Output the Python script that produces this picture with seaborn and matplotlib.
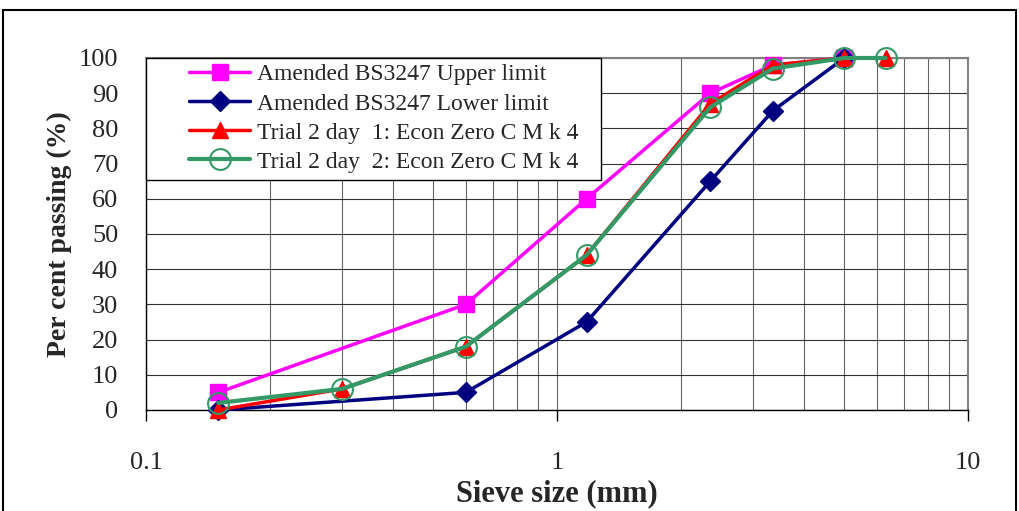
import matplotlib
matplotlib.use("Agg")
import matplotlib.pyplot as plt
import matplotlib.patches as mpatches
import seaborn as sns
import pandas as pd
import numpy as np
from matplotlib.ticker import FixedLocator, LogLocator, NullFormatter

sieve_limits = [0.15, 0.6, 1.18, 2.36, 3.35, 5.0]
upper_limit = [5, 30, 60, 90, 98, 100]
lower_limit = [0, 5, 25, 65, 85, 100]
sieve_trial = [0.15, 0.3, 0.6, 1.18, 2.36, 3.35, 5.0, 6.3]
trial_day1 = [0, 6, 18, 44, 87, 98, 100, 100]
trial_day2 = [2, 6, 18, 44, 86, 97, 100, 100]

names = ["Amended BS3247 Upper limit", "Amended BS3247 Lower limit",
         "Trial 2 day  1: Econ Zero C M k 4", "Trial 2 day  2: Econ Zero C M k 4"]

sns.set_theme(style="white")
plt.rcParams['font.family'] = ['Liberation Serif', 'DejaVu Serif']

fig = plt.figure(figsize=(10.19, 5.11), dpi=100)
ax = fig.add_axes([0.1433, 0.1977, 0.95 - 0.1433, 0.8865 - 0.1977])

frames = [
    (sieve_limits, upper_limit, names[0]),
    (sieve_limits, lower_limit, names[1]),
    (sieve_trial, trial_day1, names[2]),
    (sieve_trial, trial_day2, names[3]),
]
styles = [
    dict(color="#FF00FF", marker="s", markersize=11, lw=2.5, mfc="#FF00FF", mec="#FF00FF", zorder=3),
    dict(color="#000080", marker="D", markersize=10, lw=2.5, mfc="#000080", mec="#000080", zorder=4),
    dict(color="#FF0000", marker="^", markersize=11, lw=2.5, mfc="#FF0000", mec="#FF0000", zorder=5),
    dict(color="#339966", marker="o", markersize=15, lw=3, mfc="none", mec="#339966", mew=1.5, zorder=6),
]
for (xs, ys, nm), st in zip(frames, styles):
    df = pd.DataFrame({"x": xs, "y": ys})
    sns.lineplot(data=df, x="x", y="y", ax=ax, label=nm, color=st["color"],
                 marker=st["marker"], markersize=st["markersize"], linewidth=st["lw"],
                 markerfacecolor=st["mfc"], markeredgecolor=st["mec"],
                 markeredgewidth=st.get("mew", 1), zorder=st["zorder"], clip_on=False)

ax.set_xscale("log")
ax.set_xlim(0.1, 10)
ax.set_ylim(0, 100)
ax.set_yticks(np.arange(0, 101, 10))
ax.xaxis.set_major_locator(FixedLocator([0.1, 1, 10]))
ax.xaxis.set_minor_locator(LogLocator(base=10, subs=np.arange(2, 10)))
ax.xaxis.set_minor_formatter(NullFormatter())
ax.set_xticklabels(["0.1", "1", "10"])
ax.grid(True, which="both", axis="x", color="#000000", lw=0.8, alpha=0.6)
ax.grid(True, which="major", axis="y", color="#000000", lw=0.8, alpha=0.8)
ax.set_axisbelow(True)

for s in ["top", "right"]:
    ax.spines[s].set_color("#808080")
    ax.spines[s].set_linewidth(1.5)
for s in ["left", "bottom"]:
    ax.spines[s].set_color("#000000")
    ax.spines[s].set_linewidth(1.0)

ax.tick_params(axis="x", which="major", direction="out", length=8, width=1, color="#000000",
               labelsize=19, pad=22, bottom=True)
ax.tick_params(axis="x", which="minor", bottom=False)
ax.tick_params(axis="y", direction="out", length=0, labelsize=19, pad=20)

ax.set_xlabel("Sieve size (mm)", fontsize=22, fontweight="bold", labelpad=4)
ax.set_ylabel("Per cent passing (%)", fontsize=20, fontweight="bold", labelpad=5)

# legend frame (drawn separately to allow wide left margin like the original)
ax.add_patch(mpatches.Rectangle((0.0, 0.653), 0.553, 0.347, transform=ax.transAxes,
                                facecolor="white", edgecolor="#000000", lw=1.0,
                                zorder=9, clip_on=False))
leg = ax.legend(loc="upper left", bbox_to_anchor=(0.045, 1.0), fontsize=17, frameon=False,
                borderpad=0.25, labelspacing=0.32, handlelength=2.6, handletextpad=0.3,
                borderaxespad=0.0)
leg.set_zorder(10)

fig.patches.append(mpatches.Rectangle((0.003, -0.01), 0.994, 0.99, transform=fig.transFigure,
                                      fill=False, edgecolor="#000000", lw=1.5))

fig.savefig("out.png", dpi=100)
